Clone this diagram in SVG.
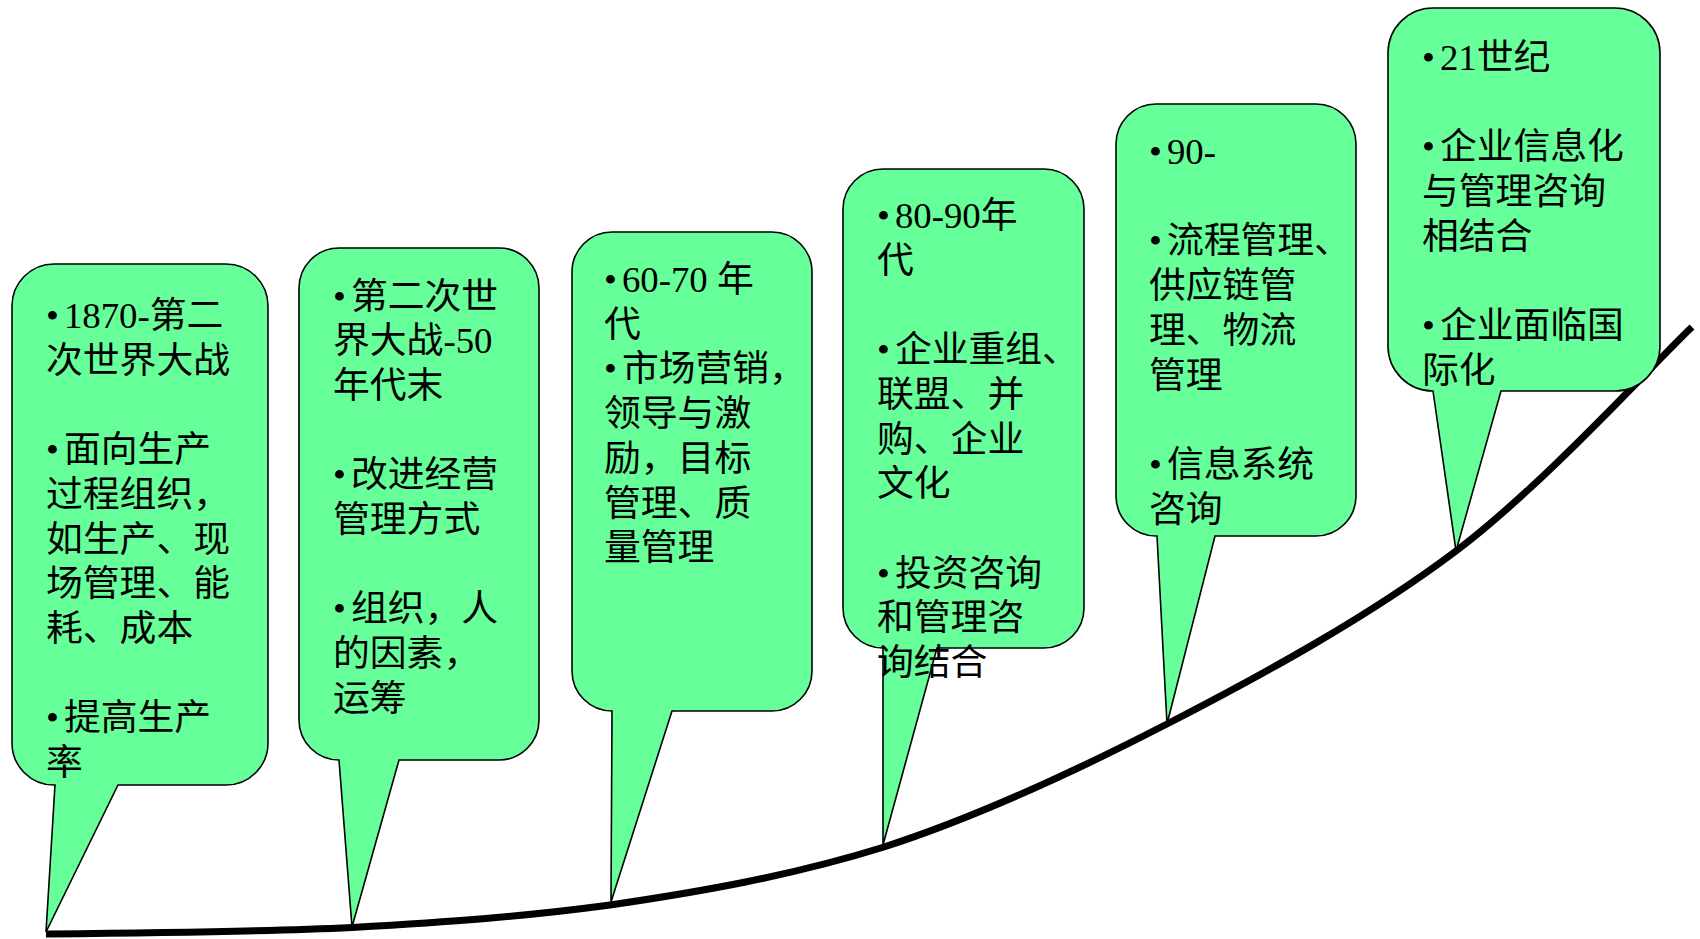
<svg xmlns="http://www.w3.org/2000/svg" width="1700" height="939" viewBox="0 0 1700 939">
<style>
.box{fill:#66FF99;stroke:#000;stroke-width:1.6;stroke-linejoin:miter}
.t{font-family:"Liberation Serif","Noto Sans CJK SC",serif;font-size:36.8px;fill:#000}
.curve{fill:none;stroke:#000;stroke-width:7}
</style>
<rect width="1700" height="939" fill="#fff"/>
<g id="connectors">
<path class="curve" d="M46,934 C97,933.5 258,932 352,927.5 C446,922 521,917 610,905 C699,892 791,876 884,847 C977,817 1072,773 1167,724 C1262,675 1368.5,617 1456,551 C1543.5,485 1653,364 1692,327"/>
</g>
<g id="node1">
<path class="box" d="M54,264 H226 A42,42 0 0 1 268,306 V743 A42,42 0 0 1 226,785 H118 L46,932 L55,785 H54 A42,42 0 0 1 12,743 V306 A42,42 0 0 1 54,264 Z"/>
<text class="t"><tspan x="46" y="328">•</tspan><tspan dx="5">1870-第二</tspan><tspan x="46" y="372.7">次世界大战</tspan><tspan x="46" y="462.1">•</tspan><tspan dx="5">面向生产</tspan><tspan x="46" y="506.8">过程组织，</tspan><tspan x="46" y="551.5">如生产、现</tspan><tspan x="46" y="596.2">场管理、能</tspan><tspan x="46" y="640.9">耗、成本</tspan><tspan x="46" y="730.3">•</tspan><tspan dx="5">提高生产</tspan><tspan x="46" y="775">率</tspan></text>
</g>
<g id="node2">
<path class="box" d="M339,248 H499 A40,40 0 0 1 539,288 V720 A40,40 0 0 1 499,760 H399 L352,927 L339,760 A40,40 0 0 1 299,720 V288 A40,40 0 0 1 339,248 Z"/>
<text class="t"><tspan x="333" y="308.5">•</tspan><tspan dx="5">第二次世</tspan><tspan x="333" y="353.2">界大战-50</tspan><tspan x="333" y="397.9">年代末</tspan><tspan x="333" y="487.3">•</tspan><tspan dx="5">改进经营</tspan><tspan x="333" y="532">管理方式</tspan><tspan x="333" y="621.4">•</tspan><tspan dx="5">组织，人</tspan><tspan x="333" y="666.1">的因素，</tspan><tspan x="333" y="710.8">运筹</tspan></text>
</g>
<g id="node3">
<path class="box" d="M612,232 H772 A40,40 0 0 1 812,272 V671 A40,40 0 0 1 772,711 H672 L611,902 L612,711 A40,40 0 0 1 572,671 V272 A40,40 0 0 1 612,232 Z"/>
<text class="t"><tspan x="604" y="292">•</tspan><tspan dx="5">60-70 年</tspan><tspan x="604" y="336.7">代</tspan><tspan x="604" y="381.4">•</tspan><tspan dx="5">市场营销，</tspan><tspan x="604" y="426.1">领导与激</tspan><tspan x="604" y="470.8">励，目标</tspan><tspan x="604" y="515.5">管理、质</tspan><tspan x="604" y="560.2">量管理</tspan></text>
</g>
<g id="node4">
<path class="box" d="M883,169 H1044 A40,40 0 0 1 1084,209 V608 A40,40 0 0 1 1044,648 H937 L883,845 L883,648 A40,40 0 0 1 843,608 V209 A40,40 0 0 1 883,169 Z"/>
<text class="t"><tspan x="877" y="228">•</tspan><tspan dx="5">80-90年</tspan><tspan x="877" y="272.7">代</tspan><tspan x="877" y="362.1">•</tspan><tspan dx="5">企业重组、</tspan><tspan x="877" y="406.8">联盟、并</tspan><tspan x="877" y="451.5">购、企业</tspan><tspan x="877" y="496.2">文化</tspan><tspan x="877" y="585.6">•</tspan><tspan dx="5">投资咨询</tspan><tspan x="877" y="630.3">和管理咨</tspan><tspan x="877" y="675">询结合</tspan></text>
</g>
<g id="node5">
<path class="box" d="M1156,104 H1316 A40,40 0 0 1 1356,144 V496 A40,40 0 0 1 1316,536 H1215 L1167,724 L1157,536 H1156 A40,40 0 0 1 1116,496 V144 A40,40 0 0 1 1156,104 Z"/>
<text class="t"><tspan x="1149" y="164">•</tspan><tspan dx="5">90-</tspan><tspan x="1149" y="253.4">•</tspan><tspan dx="5">流程管理、</tspan><tspan x="1149" y="298.1">供应链管</tspan><tspan x="1149" y="342.8">理、物流</tspan><tspan x="1149" y="387.5">管理</tspan><tspan x="1149" y="476.9">•</tspan><tspan dx="5">信息系统</tspan><tspan x="1149" y="521.6">咨询</tspan></text>
</g>
<g id="node6">
<path class="box" d="M1433,8 H1615 A45,45 0 0 1 1660,53 V346 A45,45 0 0 1 1615,391 H1501 L1456,551 L1433,391 A45,45 0 0 1 1388,346 V53 A45,45 0 0 1 1433,8 Z"/>
<text class="t"><tspan x="1422" y="70">•</tspan><tspan dx="5">21世纪</tspan><tspan x="1422" y="159.4">•</tspan><tspan dx="5">企业信息化</tspan><tspan x="1422" y="204.1">与管理咨询</tspan><tspan x="1422" y="248.8">相结合</tspan><tspan x="1422" y="338.2">•</tspan><tspan dx="5">企业面临国</tspan><tspan x="1422" y="382.9">际化</tspan></text>
</g>
</svg>
